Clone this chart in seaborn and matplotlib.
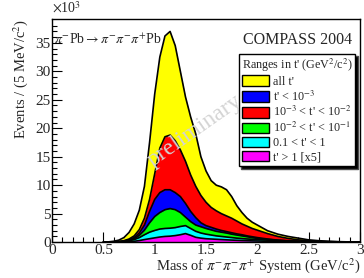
import numpy as np
import pandas as pd
import seaborn as sns
import matplotlib.pyplot as plt
from matplotlib.patches import Patch

# 3pi invariant mass bin centres (GeV/c^2)
mass = [0.50, 0.55, 0.60, 0.65, 0.70, 0.75, 0.80, 0.85, 0.90, 0.95,
        1.00, 1.05, 1.10, 1.15, 1.20, 1.25, 1.30, 1.35, 1.40, 1.45,
        1.50, 1.55, 1.60, 1.65, 1.70, 1.75, 1.80, 1.85, 1.90, 1.95,
        2.00, 2.10, 2.20, 2.30, 2.40, 2.50, 2.60, 2.70, 2.80, 2.90, 3.00]

# events / 5 MeV, in units of 10^3
all_t = [0.0, 0.05, 0.15, 0.35, 0.8, 1.7, 3.2, 5.6, 9.8, 17.5,
         26.0, 32.5, 36.2, 37.0, 34.5, 30.0, 25.5, 22.0, 19.0, 15.0,
         12.5, 10.8, 10.0, 9.7, 9.2, 8.0, 6.4, 5.2, 4.2, 3.5,
         3.0, 2.0, 1.4, 1.0, 0.7, 0.4, 0.25, 0.15, 0.08, 0.04, 0.02]
t_lt_1e3 = [0.0, 0.01, 0.03, 0.08, 0.2, 0.4, 0.8, 1.6, 3.0, 5.4,
            7.5, 8.7, 9.2, 9.2, 8.7, 8.0, 6.8, 5.4, 4.3, 3.4,
            2.9, 2.6, 2.3, 2.05, 1.85, 1.65, 1.45, 1.3, 1.1, 0.95,
            0.8, 0.55, 0.35, 0.22, 0.15, 0.1, 0.07, 0.04, 0.02, 0.01, 0.0]
t_1e3_1e2 = [0.0, 0.01, 0.05, 0.12, 0.25, 0.55, 1.1, 2.2, 4.2, 7.5,
             12.0, 16.5, 18.5, 18.8, 17.8, 16.2, 14.2, 11.8, 9.8, 8.2,
             7.0, 6.1, 5.5, 5.0, 4.6, 4.2, 3.7, 3.2, 2.8, 2.4,
             2.1, 1.5, 1.0, 0.65, 0.4, 0.25, 0.15, 0.09, 0.05, 0.02, 0.01]
t_1e2_1e1 = [0.0, 0.01, 0.02, 0.06, 0.15, 0.3, 0.6, 1.2, 2.1, 3.4,
             4.5, 5.2, 5.7, 5.9, 5.7, 5.2, 4.4, 3.6, 3.0, 2.7,
             2.4, 2.15, 1.9, 1.75, 1.6, 1.4, 1.25, 1.1, 0.95, 0.8,
             0.65, 0.48, 0.33, 0.23, 0.15, 0.1, 0.06, 0.03, 0.02, 0.01, 0.0]
t_01_1 = [0.0, 0.01, 0.02, 0.05, 0.12, 0.25, 0.45, 0.8, 1.3, 1.75,
          2.05, 2.3, 2.4, 2.45, 2.55, 2.75, 2.9, 2.4, 1.9, 1.6,
          1.4, 1.25, 1.1, 1.0, 0.9, 0.8, 0.7, 0.62, 0.55, 0.5,
          0.45, 0.35, 0.25, 0.18, 0.12, 0.08, 0.05, 0.03, 0.02, 0.01, 0.0]
t_gt_1_x5 = [0.0, 0.0, 0.01, 0.02, 0.04, 0.08, 0.15, 0.28, 0.45, 0.6,
             0.75, 0.9, 1.0, 1.05, 1.15, 1.3, 1.5, 1.2, 0.85, 0.7,
             0.6, 0.55, 0.5, 0.45, 0.4, 0.36, 0.32, 0.28, 0.25, 0.22,
             0.2, 0.15, 0.1, 0.07, 0.05, 0.04, 0.03, 0.02, 0.01, 0.01, 0.0]

labels = ["all t'", "t' < 10$^{-3}$", "10$^{-3}$ < t' < 10$^{-2}$",
          "10$^{-2}$ < t' < 10$^{-1}$", "0.1 < t' < 1", "t' > 1 [x5]"]
colors = ["#ffff00", "#0000ff", "#ff0000", "#00ff00", "#00ffff", "#ff00ff"]
# drawn back to front, biggest first
series = [all_t, t_1e3_1e2, t_lt_1e3, t_1e2_1e1, t_01_1, t_gt_1_x5]
series_col = ["#ffff00", "#ff0000", "#0000ff", "#00ff00", "#00ffff", "#ff00ff"]

sns.set_theme(style="ticks")
plt.rcParams['font.family'] = ['Liberation Serif', 'DejaVu Serif']
plt.rcParams['mathtext.fontset'] = 'stix'

fig = plt.figure(figsize=(3.64, 2.78), dpi=100)
ax = fig.add_axes([0.143, 0.129, 0.846, 0.803])

for vals, col in zip(series, series_col):
    df = pd.DataFrame({'mass': mass, 'events': vals})
    ax.fill_between(df['mass'], 0, df['events'], color=col, lw=0)
    sns.lineplot(data=df, x='mass', y='events', color='black', lw=1.2, ax=ax)

ax.set_xlim(0, 3)
ax.set_ylim(0, 39.2)
ax.set_xticks(np.arange(0, 3.01, 0.5))
ax.set_xticklabels(['0', '0.5', '1', '1.5', '2', '2.5', '3'])
ax.set_xticks(np.arange(0, 3.01, 0.1), minor=True)
ax.set_yticks(np.arange(0, 36, 5))
ax.set_yticks(np.arange(0, 39, 1), minor=True)
ax.tick_params(which='both', direction='in', labelsize=11, color='black', width=0.8)
ax.tick_params(which='major', length=7, pad=1)
ax.tick_params(which='minor', length=3.5)
for sp in ax.spines.values():
    sp.set_color('black')
    sp.set_linewidth(1.0)

ax.set_xlabel("Mass of $\\pi^{-}\\pi^{-}\\pi^{+}$ System (GeV/c$^{2}$)", fontsize=10.5, loc='right', labelpad=0)
ax.set_ylabel("Events / (5 MeV/c$^{2}$)", fontsize=10.5, loc='top', labelpad=4)

fig.text(0.143, 0.945, "$\\times$10$^{3}$", fontsize=10, ha='left', va='bottom')
ax.text(0.005, 0.905, "$\\pi^{-}$Pb$\\rightarrow\\pi^{-}\\pi^{-}\\pi^{+}$Pb", transform=ax.transAxes,
        fontsize=10, ha='left', va='center')
ax.text(0.975, 0.905, "COMPASS 2004", transform=ax.transAxes, fontsize=11.5,
        ha='right', va='center')
ax.text(0.465, 0.50, "preliminary", transform=ax.transAxes, fontsize=17, color='#d4d4d4',
        rotation=35, ha='center', va='center', zorder=5)

handles = [Patch(facecolor=c, edgecolor='black', lw=1) for c in colors]
leg = ax.legend(handles, labels, title="Ranges in t' (GeV$^{2}$/c$^{2}$)", loc='upper right',
                bbox_to_anchor=(0.985, 0.845), fontsize=8.7, title_fontsize=8.7,
                frameon=True, fancybox=False, edgecolor='black', framealpha=1,
                handlelength=2.3, handleheight=1.0, handletextpad=0.3,
                labelspacing=0.12, borderpad=0.25, borderaxespad=0,
                shadow={'fc': 'black', 'alpha': 1.0})
leg._legend_box.align = 'left'
leg.get_frame().set_linewidth(1.0)
leg.set_zorder(6)

fig.savefig("out.png", dpi=100)
